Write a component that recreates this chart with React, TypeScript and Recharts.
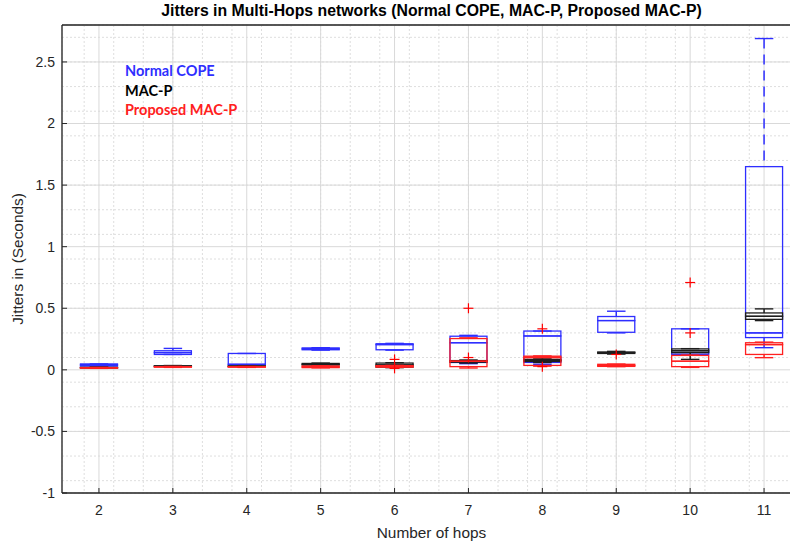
import React from "react";
import { ComposedChart, Bar, Scatter, XAxis, YAxis, CartesianGrid, Label } from "recharts";

// ---------- data ----------
const hops = [2, 3, 4, 5, 6, 7, 8, 9, 10, 11];

const seriesNames = ["Normal COPE", "MAC-P", "Proposed MAC-P"];

// Normal COPE (blue)
const copeLow = [0.031, 0.125, 0.042, 0.16, 0.16, 0.05, 0.045, 0.3, 0.12, 0.18];
const copeQ1 = [0.031, 0.125, 0.042, 0.163, 0.163, 0.06, 0.06, 0.305, 0.125, 0.262];
const copeMed = [0.04, 0.14, 0.045, 0.17, 0.205, 0.22, 0.275, 0.4, 0.14, 0.3];
const copeQ3 = [0.048, 0.155, 0.133, 0.178, 0.212, 0.273, 0.315, 0.433, 0.333, 1.65];
const copeHigh = [0.048, 0.174, 0.133, 0.18, 0.215, 0.28, 0.315, 0.476, 0.333, 2.69];

// MAC-P (black)
const macLow = [0.014, 0.028, 0.026, 0.036, 0.018, 0.055, 0.06, 0.128, 0.085, 0.4];
const macQ1 = [0.016, 0.029, 0.028, 0.039, 0.022, 0.062, 0.068, 0.133, 0.14, 0.41];
const macMed = [0.018, 0.031, 0.03, 0.045, 0.04, 0.07, 0.077, 0.14, 0.155, 0.435];
const macQ3 = [0.02, 0.033, 0.032, 0.052, 0.055, 0.075, 0.085, 0.145, 0.17, 0.462];
const macHigh = [0.022, 0.035, 0.034, 0.055, 0.058, 0.08, 0.095, 0.15, 0.172, 0.495];

// Proposed MAC-P (red)
const propLow = [0.012, 0.02, 0.02, 0.016, 0.02, 0.015, 0.03, 0.026, 0.02, 0.099];
const propQ1 = [0.014, 0.022, 0.022, 0.018, 0.022, 0.026, 0.036, 0.028, 0.026, 0.125];
const propMed = [0.016, 0.024, 0.024, 0.024, 0.028, 0.07, 0.1, 0.035, 0.07, 0.205];
const propQ3 = [0.018, 0.026, 0.026, 0.031, 0.034, 0.254, 0.111, 0.045, 0.117, 0.22];
const propHigh = [0.02, 0.028, 0.028, 0.033, 0.036, 0.26, 0.113, 0.047, 0.12, 0.225];

const outlierHops = [6, 6, 7, 7, 8, 8, 9, 10, 10];
const outlierValues = [0.085, 0.012, 0.5, 0.1, 0.333, 0.026, 0.125, 0.709, 0.3];

const xTicks = [2, 3, 4, 5, 6, 7, 8, 9, 10, 11];
const yTicks = [-1, -0.5, 0, 0.5, 1, 1.5, 2, 2.5];
const xMinorTicks = [
  1.6, 1.8, 2, 2.2, 2.4, 2.6, 2.8, 3, 3.2, 3.4, 3.6, 3.8, 4, 4.2, 4.4, 4.6, 4.8, 5, 5.2, 5.4,
  5.6, 5.8, 6, 6.2, 6.4, 6.6, 6.8, 7, 7.2, 7.4, 7.6, 7.8, 8, 8.2, 8.4, 8.6, 8.8, 9, 9.2, 9.4,
  9.6, 9.8, 10, 10.2, 10.4, 10.6, 10.8, 11, 11.2, 11.4,
];
const yMinorTicks = [
  -0.9, -0.8, -0.7, -0.6, -0.5, -0.4, -0.3, -0.2, -0.1, 0, 0.1, 0.2, 0.3, 0.4, 0.5, 0.6, 0.7,
  0.8, 0.9, 1, 1.1, 1.2, 1.3, 1.4, 1.5, 1.6, 1.7, 1.8, 1.9, 2, 2.1, 2.2, 2.3, 2.4, 2.5, 2.6, 2.7,
];

// ---------- styling ----------
const COLORS = ["#2e2eff", "#1e1e1e", "#ff2020"];
const AXIS_COLOR = "#262626";
const FONT = "'Liberation Sans', Arial, Helvetica, sans-serif";
const X_DOMAIN: [number, number] = [1.5, 11.5];
const Y_DOMAIN: [number, number] = [-1, 2.8];

const series = [
  { key: "cope", name: seriesNames[0], color: COLORS[0], lo: copeLow, q1: copeQ1, med: copeMed, q3: copeQ3, hi: copeHigh },
  { key: "mac", name: seriesNames[1], color: COLORS[1], lo: macLow, q1: macQ1, med: macMed, q3: macQ3, hi: macHigh },
  { key: "prop", name: seriesNames[2], color: COLORS[2], lo: propLow, q1: propQ1, med: propMed, q3: propQ3, hi: propHigh },
];

const table = hops.map((hop, i) => {
  const row: Record<string, number> = { hop };
  series.forEach((s) => {
    row[`${s.key}_base`] = s.lo[i];
    row[`${s.key}_lw`] = s.q1[i] - s.lo[i];
    row[`${s.key}_bl`] = s.med[i] - s.q1[i];
    row[`${s.key}_bu`] = s.q3[i] - s.med[i];
    row[`${s.key}_uw`] = s.hi[i] - s.q3[i];
  });
  return row;
});

const outliers = outlierHops.map((hop, i) => ({ hop, value: outlierValues[i] }));

// ---------- shapes ----------
const Empty = () => <g />;

const makeBox = (color: string) => (props: any) => {
  const { x, y, width, height } = props;
  if (x == null || y == null) return <g />;
  const top = Math.min(y, y + height);
  const h = Math.abs(height);
  return <rect x={x} y={top} width={width} height={h} fill="none" stroke={color} strokeWidth={1.3} />;
};

const makeWhisker = (color: string, upper: boolean) => (props: any) => {
  const { x, y, width, height } = props;
  if (x == null || y == null) return <g />;
  const top = Math.min(y, y + height);
  const bottom = Math.max(y, y + height);
  const cx = x + width / 2;
  const capY = upper ? top : bottom;
  return (
    <g>
      <line x1={cx} x2={cx} y1={top} y2={bottom} stroke={color} strokeWidth={1.5} strokeDasharray="10 6" />
      <line x1={cx - width / 4} x2={cx + width / 4} y1={capY} y2={capY} stroke={color} strokeWidth={1.4} />
    </g>
  );
};

const Plus = (props: any) => {
  const { cx, cy } = props;
  if (cx == null || cy == null) return <g />;
  return (
    <g>
      <line x1={cx - 5} x2={cx + 5} y1={cy} y2={cy} stroke="#ff0000" strokeWidth={1.2} />
      <line x1={cx} x2={cx} y1={cy - 5} y2={cy + 5} stroke="#ff0000" strokeWidth={1.2} />
    </g>
  );
};

const tickStyle = { fill: AXIS_COLOR, fontSize: 14, fontFamily: FONT };

export default function App() {
  return (
    <div style={{ position: "absolute", left: 0, top: 0, width: 790, height: 545, overflow: "hidden", background: "#fff" }}>
      <ComposedChart
        width={802}
        height={545}
        data={table}
        margin={{ top: 24, right: 1, bottom: 22, left: 0 }}
        barCategoryGap="25%"
      >
        {/* minor grid axes */}
        <XAxis xAxisId="minorX" type="number" dataKey="hop" domain={X_DOMAIN} ticks={xMinorTicks} allowDataOverflow hide />
        <YAxis yAxisId="minorY" type="number" domain={Y_DOMAIN} ticks={yMinorTicks} allowDataOverflow hide />
        <CartesianGrid xAxisId="minorX" yAxisId="minorY" stroke="#dedede" strokeDasharray="2 2" strokeWidth={1} />

        {/* main axes */}
        <XAxis
          xAxisId="cope"
          type="number"
          dataKey="hop"
          domain={X_DOMAIN}
          ticks={xTicks}
          allowDataOverflow
          height={30}
          tickSize={-5}
          tickMargin={17}
          tick={tickStyle}
          stroke={AXIS_COLOR}
          axisLine={{ stroke: AXIS_COLOR, strokeWidth: 1.3 }}
          tickLine={{ stroke: AXIS_COLOR }}
        >
          <Label value="Number of hops" position="bottom" offset={4} style={{ fill: AXIS_COLOR, fontSize: 15.4, fontFamily: FONT }} />
        </XAxis>
        <XAxis xAxisId="mac" type="number" dataKey="hop" domain={X_DOMAIN} ticks={xTicks} allowDataOverflow hide />
        <XAxis xAxisId="prop" type="number" dataKey="hop" domain={X_DOMAIN} ticks={xTicks} allowDataOverflow hide />
        <XAxis
          xAxisId="top"
          orientation="top"
          type="number"
          dataKey="hop"
          domain={X_DOMAIN}
          ticks={xTicks}
          allowDataOverflow
          height={1}
          tickSize={-5}
          tick={false}
          stroke={AXIS_COLOR}
          axisLine={{ stroke: AXIS_COLOR, strokeWidth: 1.3 }}
          tickLine={{ stroke: AXIS_COLOR }}
        />
        <YAxis
          yAxisId="main"
          type="number"
          domain={Y_DOMAIN}
          ticks={yTicks}
          allowDataOverflow
          width={62}
          tickSize={-5}
          tickMargin={12}
          tick={tickStyle}
          axisLine={{ stroke: AXIS_COLOR, strokeWidth: 1.3 }}
          tickLine={{ stroke: AXIS_COLOR }}
        />
        <CartesianGrid xAxisId="cope" yAxisId="main" stroke="#d9d9d9" strokeWidth={1} />

        {series.map((s) => [
          <Bar key={`${s.key}_base`} dataKey={`${s.key}_base`} stackId={s.key} xAxisId={s.key} yAxisId="main" shape={Empty} isAnimationActive={false} />,
          <Bar key={`${s.key}_lw`} dataKey={`${s.key}_lw`} stackId={s.key} xAxisId={s.key} yAxisId="main" shape={makeWhisker(s.color, false)} isAnimationActive={false} />,
          <Bar key={`${s.key}_bl`} dataKey={`${s.key}_bl`} stackId={s.key} xAxisId={s.key} yAxisId="main" shape={makeBox(s.color)} isAnimationActive={false} />,
          <Bar key={`${s.key}_bu`} dataKey={`${s.key}_bu`} stackId={s.key} xAxisId={s.key} yAxisId="main" shape={makeBox(s.color)} isAnimationActive={false} />,
          <Bar key={`${s.key}_uw`} dataKey={`${s.key}_uw`} stackId={s.key} xAxisId={s.key} yAxisId="main" shape={makeWhisker(s.color, true)} isAnimationActive={false} />,
        ])}

        <Scatter data={outliers} dataKey="value" xAxisId="cope" yAxisId="main" shape={Plus} isAnimationActive={false} />
      </ComposedChart>

      {/* title */}
      <div
        style={{
          position: "absolute",
          zIndex: 5,
          left: 62,
          width: 739,
          top: 2,
          lineHeight: "18px",
          textAlign: "center",
          fontFamily: FONT,
          fontWeight: "bold",
          fontSize: 15.8,
          color: "#000",
          whiteSpace: "nowrap",
        }}
      >
        Jitters in Multi-Hops networks (Normal COPE, MAC-P, Proposed MAC-P)
      </div>

      {/* y label */}
      <div
        style={{
          position: "absolute",
          zIndex: 5,
          left: 17.5,
          top: 258.5,
          transform: "translate(-50%, -50%) rotate(-90deg)",
          fontFamily: FONT,
          fontSize: 15.4,
          color: AXIS_COLOR,
          whiteSpace: "nowrap",
        }}
      >
        Jitters in (Seconds)
      </div>

      {/* legend text */}
      <div
        style={{
          position: "absolute",
          zIndex: 5,
          left: 125,
          top: 61,
          fontFamily: "Lato, 'Open Sans', sans-serif",
          fontWeight: "bold",
          fontSize: 14.5,
          lineHeight: "19.5px",
        }}
      >
        {series.map((s) => (
          <div key={s.key} style={{ color: s.color === COLORS[1] ? "#000" : s.color }}>
            {s.name}
          </div>
        ))}
      </div>
    </div>
  );
}
